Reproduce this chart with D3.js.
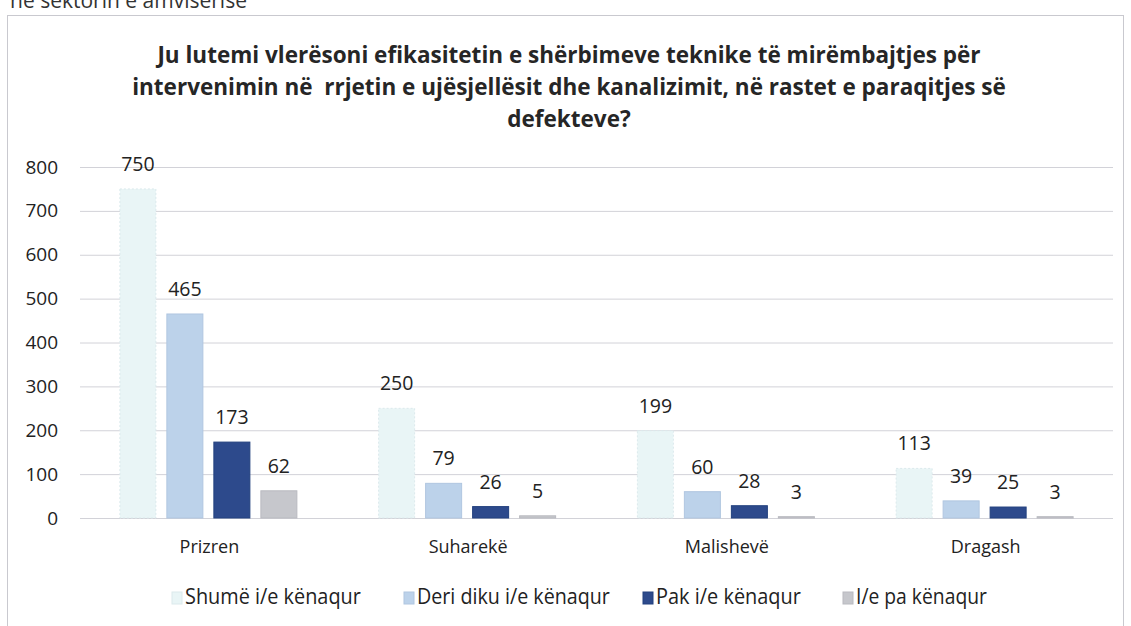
<!DOCTYPE html>
<html lang="sq">
<head>
<meta charset="UTF-8">
<title>Efikasiteti i shërbimeve teknike</title>
<script src="https://d3js.org/d3.v7.min.js"></script>
<style>
  body { margin: 0; background: #fff; }
  svg { display: block; font-family: 'Open Sans', sans-serif; }
</style>
</head>
<body>
<div id="chart"></div>
<script>
  // data
  const regions = ["Prizren", "Suharekë", "Malishevë", "Dragash"];
  const seriesNames = ["Shumë i/e kënaqur", "Deri diku i/e kënaqur", "Pak i/e kënaqur", "I/e pa kënaqur"];
  const shume = [750, 250, 199, 113];
  const deriDiku = [465, 79, 60, 39];
  const pak = [173, 26, 28, 25];
  const pa = [62, 5, 3, 3];
  const yTicks = [0, 100, 200, 300, 400, 500, 600, 700, 800];
  const titleLines = [
    "Ju lutemi vlerësoni efikasitetin e shërbimeve teknike të mirëmbajtjes për",
    "intervenimin në  rrjetin e ujësjellësit dhe kanalizimit, në rastet e paraqitjes së",
    "defekteve?"
  ];

  const series = [shume, deriDiku, pak, pa];
  const colors = ["#e9f5f6", "#bcd2ea", "#2d4a8c", "#c6c7cc"];
  const strokes = ["#dbe9ec", "#b0c6e0", "#22407e", "#b9bac0"];

  const W = 1131, H = 626;
  const svg = d3.select("#chart").append("svg")
    .attr("width", W).attr("height", H);

  // text cut off at the top of the scan
  svg.append("text")
    .attr("x", 10).attr("y", 8)
    .attr("font-size", 21).attr("fill", "#333")
    .text("në sektorin e amvisërisë");

  // chart frame
  svg.append("rect")
    .attr("x", 7.5).attr("y", 15.5)
    .attr("width", 1116).attr("height", 640)
    .attr("fill", "none").attr("stroke", "#c9c9cf");

  // title
  svg.append("g").selectAll("text")
    .data(titleLines)
    .join("text")
    .attr("x", 569)
    .attr("y", (d, i) => 63 + i * 32)
    .attr("text-anchor", "middle")
    .attr("font-size", 22.5)
    .attr("font-weight", "bold")
    .attr("fill", "#262626")
    .style("white-space", "pre")
    .text(d => d);

  const x0 = d3.scaleBand().domain(regions).range([78, 1113]);
  const x1 = d3.scaleBand().domain(d3.range(4))
    .range([0, 177]).paddingInner(0.234);
  const y = d3.scaleLinear().domain([0, 800]).range([518, 167]);

  // grid lines
  svg.append("g").selectAll("line")
    .data(yTicks)
    .join("line")
    .attr("x1", 80).attr("x2", 1113)
    .attr("y1", d => y(d) + 0.5).attr("y2", d => y(d) + 0.5)
    .attr("stroke", "#d2d2d8").attr("stroke-width", 1);

  // y axis labels
  const yAxis = d3.axisLeft(y).tickValues(yTicks).tickSize(0).tickPadding(0);
  svg.append("g")
    .attr("transform", "translate(58,0)")
    .call(yAxis)
    .call(g => g.select(".domain").remove())
    .call(g => g.selectAll("text")
      .attr("font-size", 19).attr("fill", "#222")
      .attr("font-family", "'Open Sans', sans-serif"));

  // x axis labels
  const xAxis = d3.axisBottom(x0).tickSize(0).tickPadding(0);
  svg.append("g")
    .attr("transform", "translate(2,540)")
    .call(xAxis)
    .call(g => g.select(".domain").remove())
    .call(g => g.selectAll("text")
      .attr("font-size", 18).attr("fill", "#222")
      .attr("font-family", "'Open Sans', sans-serif"));

  // bars
  const groupOffset = (x0.bandwidth() - 177) / 2 + 1;
  const groups = svg.append("g").selectAll("g")
    .data(regions)
    .join("g")
    .attr("transform", d => `translate(${x0(d) + groupOffset},0)`);

  groups.selectAll("rect")
    .data((d, i) => series.map((s, k) => ({ k, v: s[i] })))
    .join("rect")
    .attr("x", d => x1(d.k))
    .attr("width", x1.bandwidth())
    .attr("y", d => y(d.v))
    .attr("height", d => y(0) - y(d.v))
    .attr("fill", d => colors[d.k])
    .attr("stroke", d => strokes[d.k])
    .attr("stroke-dasharray", d => d.k === 0 ? "2,2" : null)
    .attr("stroke-width", 1);

  groups.selectAll("text")
    .data((d, i) => series.map((s, k) => ({ k, v: s[i] })))
    .join("text")
    .attr("x", d => x1(d.k) + x1.bandwidth() / 2)
    .attr("y", d => y(d.v) - 18)
    .attr("text-anchor", "middle")
    .attr("font-size", 19.5)
    .attr("fill", "#222")
    .text(d => d.v);

  // legend (the original uses a narrower face, so squeeze the text horizontally)
  const legendX = [172, 404, 643, 843];
  const legendW = [176, 193, 145, 131];
  const legend = svg.append("g").selectAll("g")
    .data(seriesNames)
    .join("g")
    .attr("transform", (d, i) => `translate(${legendX[i]},592)`);
  legend.append("rect")
    .attr("width", 10).attr("height", 12)
    .attr("fill", (d, i) => colors[i])
    .attr("stroke", (d, i) => strokes[i]);
  legend.append("text")
    .attr("font-size", 22)
    .attr("fill", "#222")
    .text(d => d)
    .each(function(d, i) {
      const sx = legendW[i] / this.getComputedTextLength();
      d3.select(this).attr("transform", `translate(13,12) scale(${sx},1)`);
    });
</script>
</body>
</html>
